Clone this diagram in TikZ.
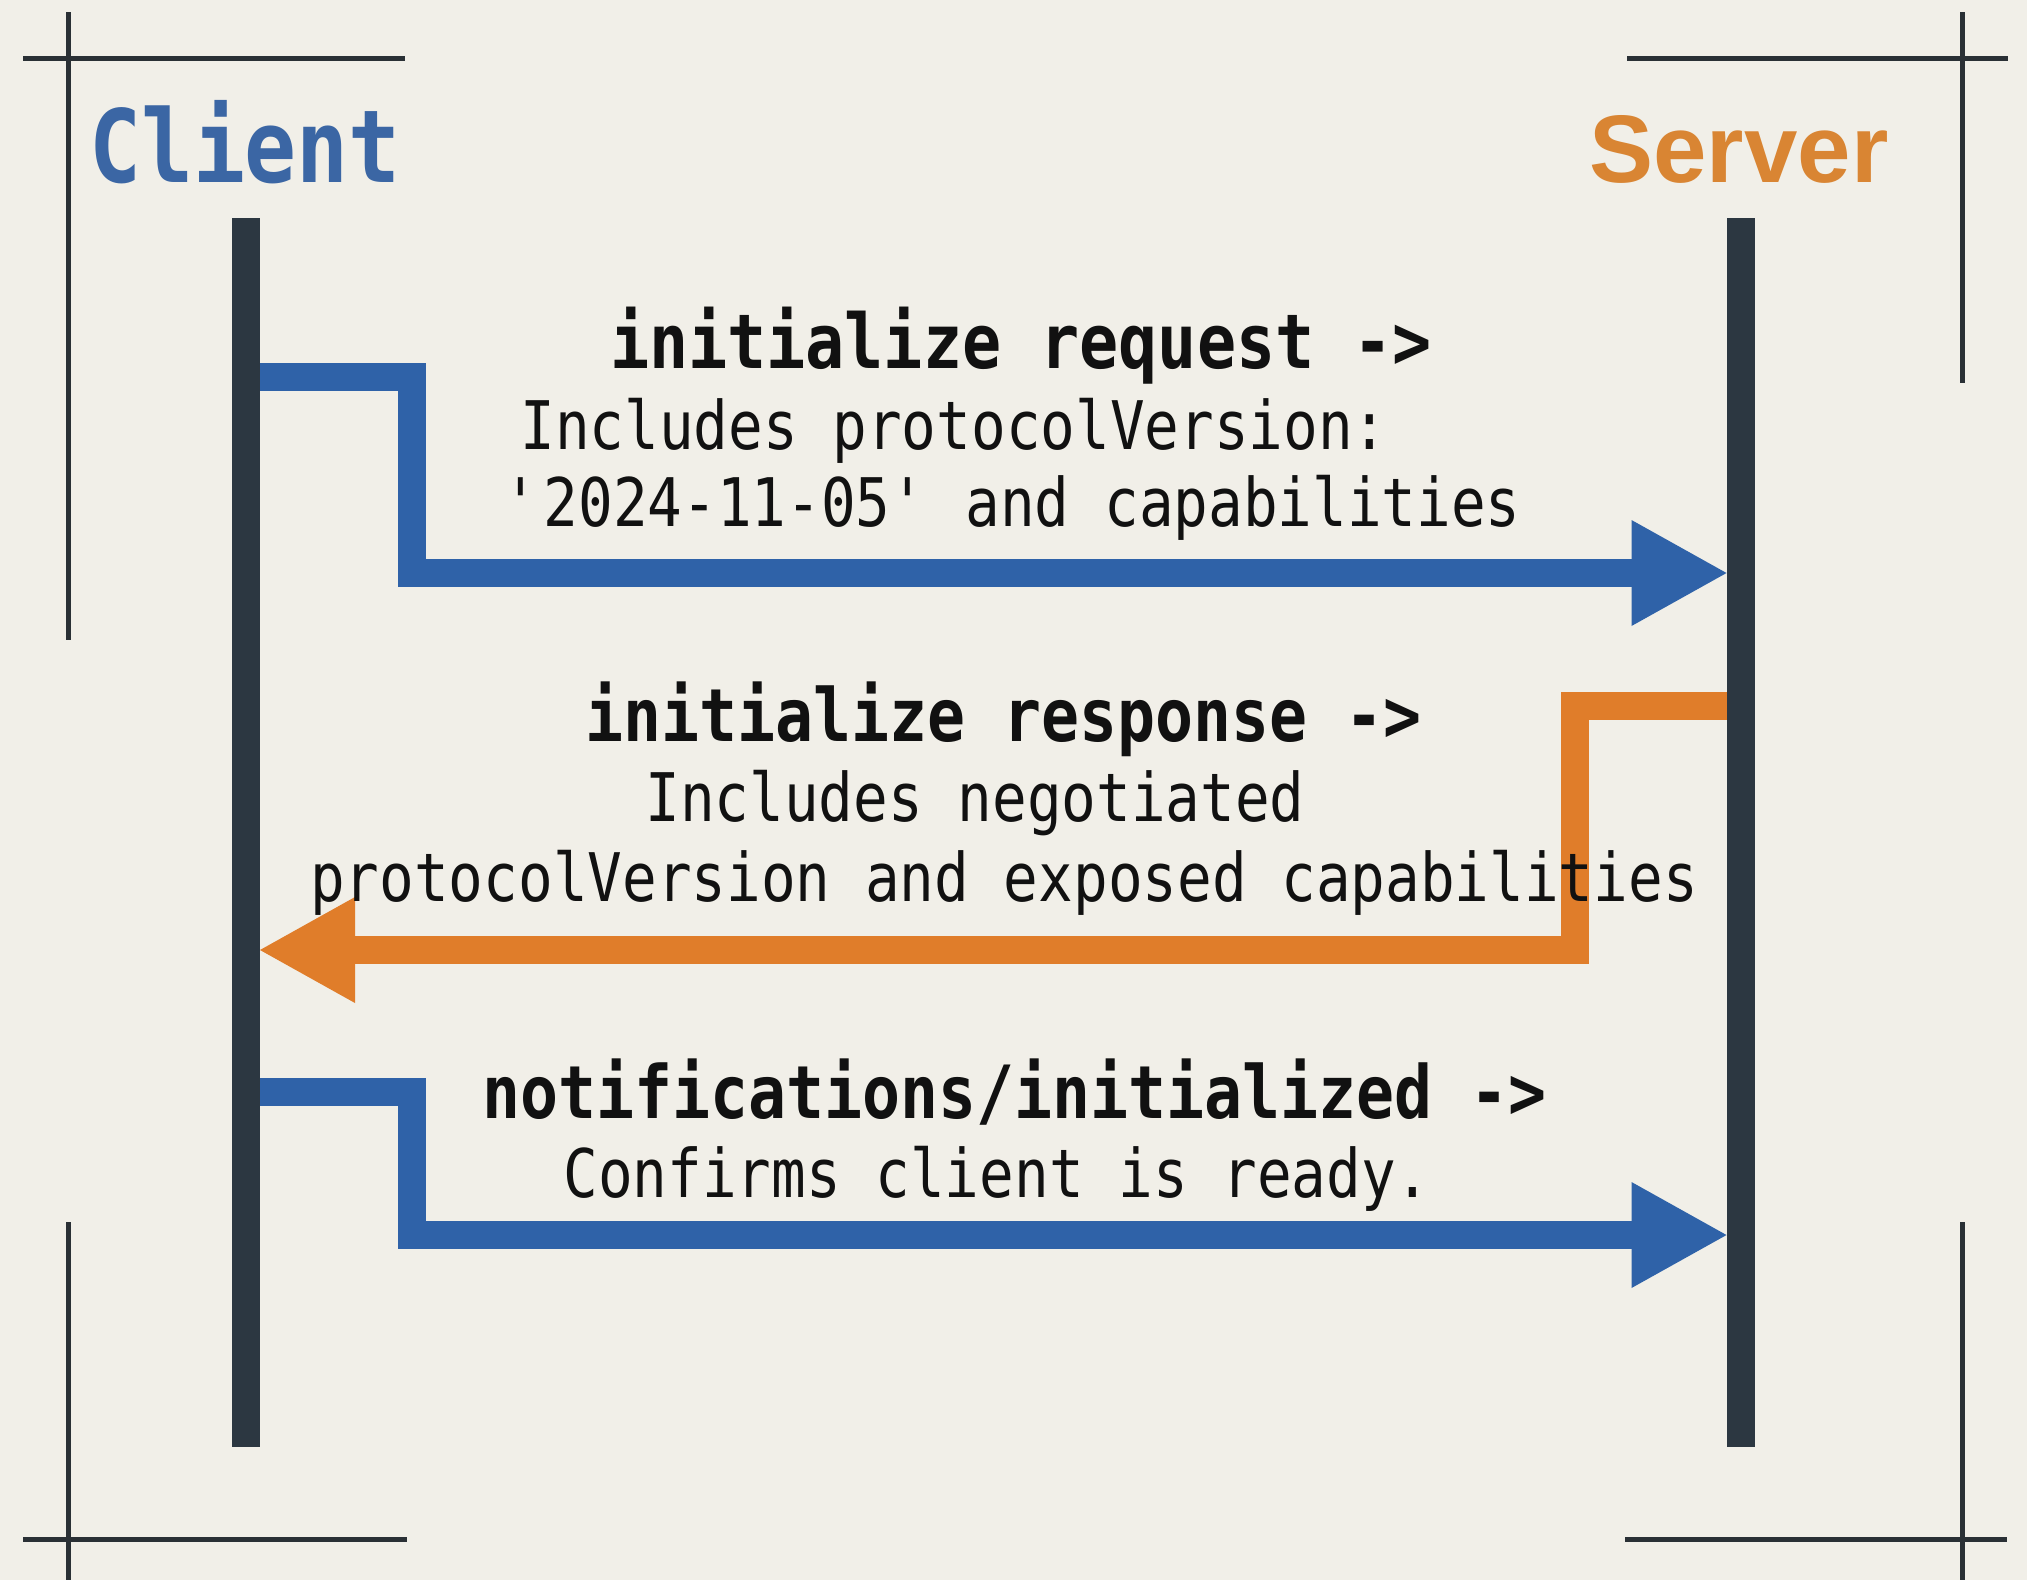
\documentclass[tikz,border=0pt]{standalone}
\usepackage{fontspec}
\usetikzlibrary{arrows.meta}

% Typefaces: condensed monospace for labels, bold sans for the server title
\newfontfamily\clientfont[FakeStretch=0.855]{DejaVu Sans Mono}
\newfontfamily\serverfont{Liberation Sans}
\newfontfamily\msgfont[FakeStretch=0.86]{DejaVu Sans Mono}

\definecolor{paper}{HTML}{F1EFE8}
\definecolor{lifeC}{HTML}{2C3741}
\definecolor{frameC}{HTML}{2A3035}
\definecolor{reqC}{HTML}{2F62A8}
\definecolor{respC}{HTML}{E07D2A}
\definecolor{clientC}{HTML}{3B66A4}
\definecolor{serverC}{HTML}{D98533}
\definecolor{ink}{HTML}{111111}

\tikzset{
  lifeline/.style={fill=lifeC, minimum width=14pt, minimum height=614.5pt,
    inner sep=0pt, outer sep=0pt},
  framemark/.style={draw=frameC, line width=2.5pt},
  msgtip/.style={-{Triangle[length=47.5pt, width=53pt, line width=0pt]}},
  reqarrow/.style={draw=reqC, line width=14pt, msgtip},
  resparrow/.style={draw=respC, line width=14pt, msgtip},
  headlabel/.style={anchor=base, inner sep=0pt, text=ink,
    font=\msgfont\bfseries\fontsize{36.7}{44}\selectfont},
  notelabel/.style={anchor=base, inner sep=0pt, text=ink,
    font=\msgfont\fontsize{33.5}{40}\selectfont},
  clientlbl/.style={anchor=base, inner sep=0pt, text=clientC,
    font=\clientfont\bfseries\fontsize{50.5}{60}\selectfont},
  serverlbl/.style={anchor=base, inner sep=0pt, text=serverC,
    font=\serverfont\bfseries\fontsize{48}{58}\selectfont},
}

\begin{document}
\begin{tikzpicture}[x=0.5pt, y=-0.5pt]
  % canvas
  \fill[paper] (0,0) rectangle (2027,1580);
  \useasboundingbox (0,0) rectangle (2027,1580);

  % corner frame marks
  \draw[framemark] (23,58) -- (405,58);
  \draw[framemark] (68,12) -- (68,640);
  \draw[framemark] (1627,58) -- (2008,58);
  \draw[framemark] (1962,12) -- (1962,383);
  \draw[framemark] (23,1539) -- (407,1539);
  \draw[framemark] (68,1222) -- (68,1580);
  \draw[framemark] (1625,1539) -- (2007,1539);
  \draw[framemark] (1962,1222) -- (1962,1580);

  % participants
  \node[clientlbl] (client) at (245,182) {Client};
  \node[serverlbl] (server) at (1739,182) {Server};

  % lifelines
  \node[lifeline] (cl) at (246,832.5) {};
  \node[lifeline] (sv) at (1740.5,832.5) {};

  % message anchors on the lifelines
  \coordinate (req-from)  at (cl.east |- 0,377);
  \coordinate (req-to)    at (sv.west |- 0,573);
  \coordinate (resp-from) at (sv.west |- 0,706);
  \coordinate (resp-to)   at (cl.east |- 0,950);
  \coordinate (ntf-from)  at (cl.east |- 0,1092);
  \coordinate (ntf-to)    at (sv.west |- 0,1235);

  % messages
  \draw[reqarrow]  (req-from)  -- ++(152,0)  |- (req-to);
  \draw[resparrow] (resp-from) -- ++(-152,0) |- (resp-to);
  \draw[reqarrow]  (ntf-from)  -- ++(152,0)  |- (ntf-to);

  % message labels
  \node[headlabel, font=\msgfont\bfseries\fontsize{37.8}{44}\selectfont]
    (req-title) at (1021,368) {initialize request ->};
  \node[notelabel] (req-l1) at (954,449) {Includes protocolVersion:};
  \node[notelabel] (req-l2) at (1012,526)
    {\textquotesingle 2024-11-05\textquotesingle{} and capabilities};

  \node[headlabel] (resp-title) at (1004,741) {initialize response ->};
  \node[notelabel] (resp-l1) at (975,821) {Includes negotiated};
  \node[notelabel] (resp-l2) at (1004,901) {protocolVersion and exposed capabilities};

  \node[headlabel] (ntf-title) at (1015,1118) {notifications/initialized ->};
  \node[notelabel] (ntf-l1) at (997,1197) {Confirms client is ready.};
\end{tikzpicture}
\end{document}
